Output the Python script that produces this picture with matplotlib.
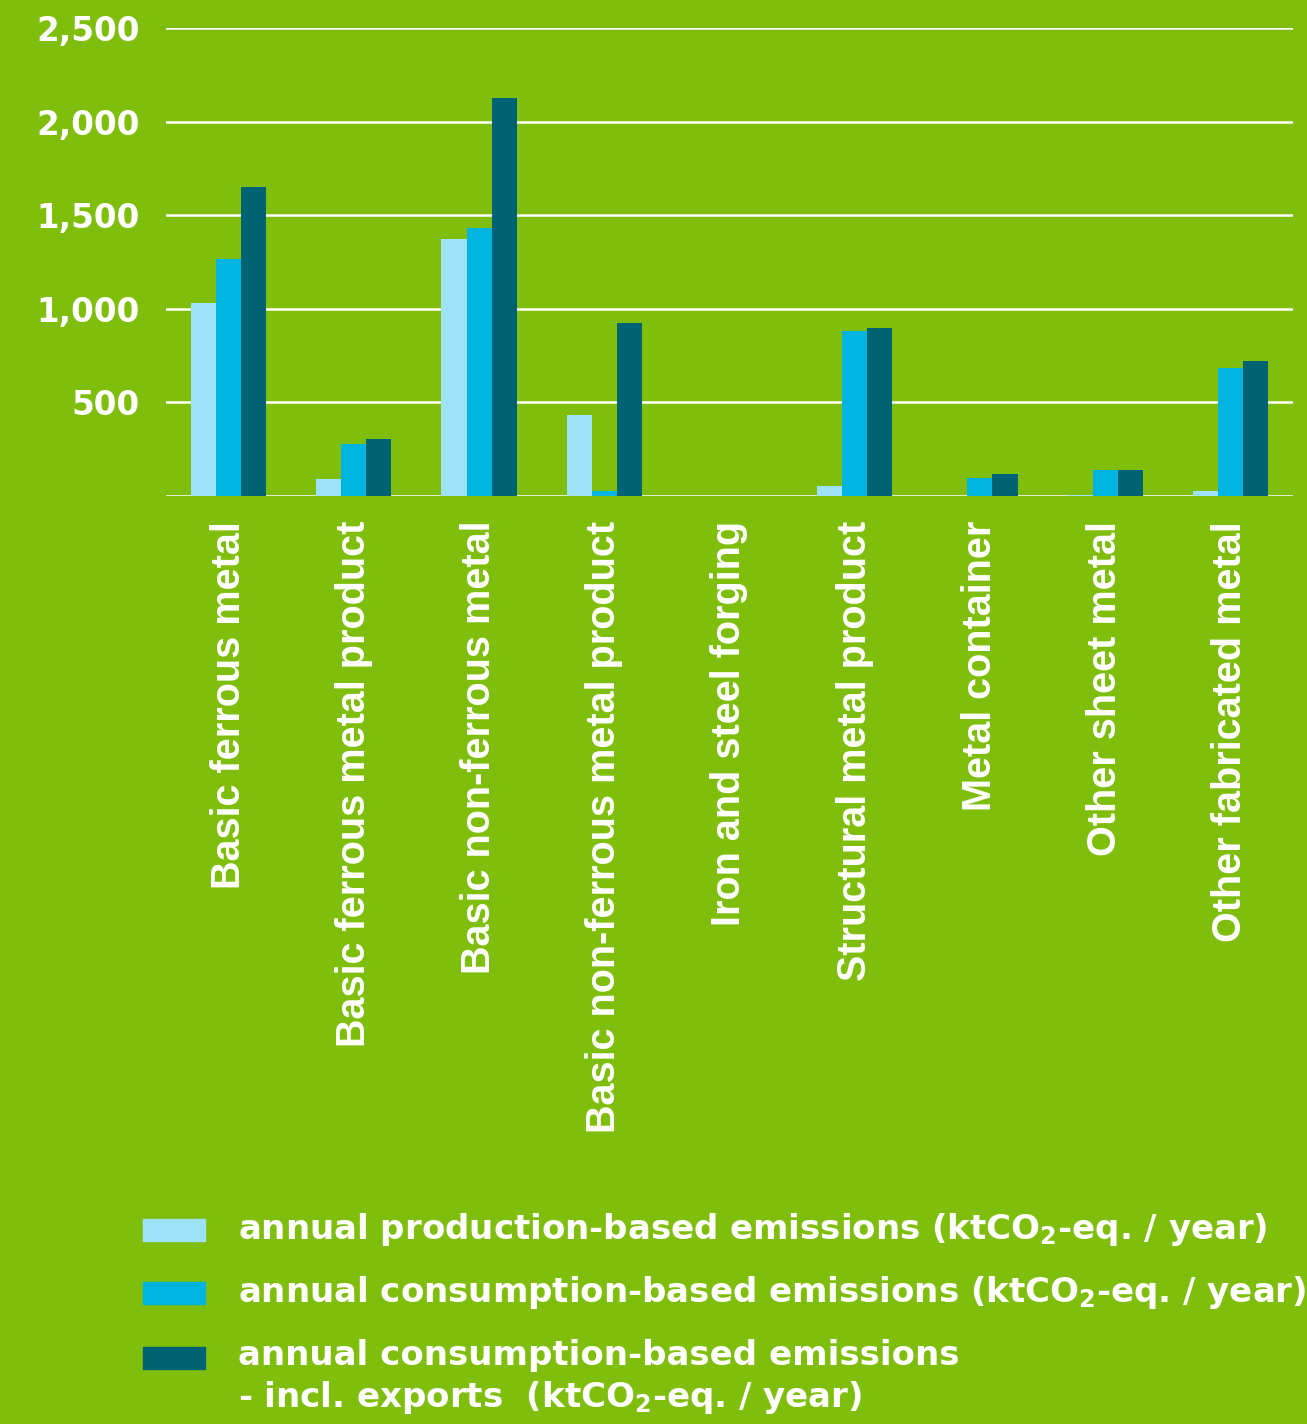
import numpy as np
import matplotlib
matplotlib.use("Agg")
import matplotlib.pyplot as plt
from matplotlib.patches import Rectangle

# sectors and emissions (ktCO2-eq. / year)
sectors = [
    "Basic ferrous metal",
    "Basic ferrous metal product",
    "Basic non-ferrous metal",
    "Basic non-ferrous metal product",
    "Iron and steel forging",
    "Structural metal product",
    "Metal container",
    "Other sheet metal",
    "Other fabricated metal",
]
production = [1030, 91, 1375, 434, 0, 55, 0, 5, 25]
consumption = [1266, 276, 1433, 28, 0, 881, 98, 139, 682]
consumption_exports = [1652, 306, 2125, 924, 0, 897, 117, 139, 723]

series_labels = [
    "annual production-based emissions (ktCO$_2$-eq. / year)",
    "annual consumption-based emissions (ktCO$_2$-eq. / year)",
    "annual consumption-based emissions\n- incl. exports  (ktCO$_2$-eq. / year)",
]
yticks = [500, 1000, 1500, 2000, 2500]

BG = "#80be0e"
COLORS = ["#9de2f7", "#00b4e0", "#006373"]


def main():
    plt.rcParams["mathtext.default"] = "bf"

    fig = plt.figure(figsize=(13.07, 14.24), dpi=100, facecolor=BG)
    ax = fig.add_axes([166 / 1307, 1 - 496 / 1424, 1127 / 1307, 468 / 1424])
    ax.set_facecolor(BG)

    x = np.arange(len(sectors))
    width = 0.2
    for i, (vals, color) in enumerate(zip(
            [production, consumption, consumption_exports], COLORS)):
        ax.bar(x + (i - 1) * width, vals, width, color=color, zorder=2)

    ax.set_xlim(-0.5, len(sectors) - 0.5)
    ax.set_ylim(0, 2500)
    ax.set_yticks([0] + yticks)
    ax.set_yticklabels([""] + ["{:,}".format(v) for v in yticks],
                       fontsize=23.5, fontweight="bold", color="white",
                       family="DejaVu Sans")
    ax.yaxis.grid(True, color="white", linewidth=1.8)
    ax.set_axisbelow(True)
    ax.tick_params(axis="y", length=0, pad=19)
    ax.tick_params(axis="x", length=0, pad=18)
    for s in ax.spines.values():
        s.set_visible(False)

    ax.set_xticks(x)
    ax.set_xticklabels(sectors, rotation=90, va="top", ha="center",
                       fontsize=28.5, fontweight="bold", color="white",
                       family="Liberation Sans")

    # legend drawn by hand so the swatch sits on the first text line
    rows = [1230, 1293, 1358]
    for color, label, yc in zip(COLORS, series_labels, rows):
        fig.patches.append(Rectangle(
            (143 / 1307, 1 - (yc + 11) / 1424), 62 / 1307, 22 / 1424,
            transform=fig.transFigure, color=color))
        fig.text(238 / 1307, 1 - (yc - 19) / 1424, label, va="top",
                 ha="left", fontsize=24.5, fontweight="bold", color="white",
                 family="DejaVu Sans", linespacing=1.25)

    fig.savefig("out.png", dpi=100, facecolor=BG)


if __name__ == "__main__":
    main()
